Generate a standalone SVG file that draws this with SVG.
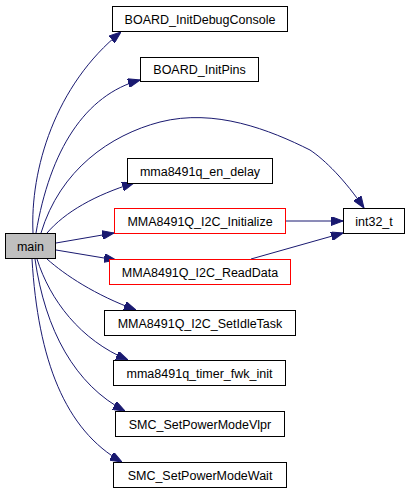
<svg xmlns="http://www.w3.org/2000/svg" width="411" height="493" viewBox="0 0 411 493">
<style>
.n rect{fill:#fff;stroke:#000;stroke-width:1}
.n.r rect{stroke:#ff0000}
.n.m rect{fill:#bfbfbf}
.n text{font-family:"Liberation Sans",Arial,sans-serif;font-size:12.5px;text-anchor:middle;fill:#000}
.e path{fill:none;stroke:#191970;stroke-width:1;marker-end:url(#ah)}
</style>
<defs>
<marker id="ah" markerUnits="userSpaceOnUse" markerWidth="12" markerHeight="9" refX="12" refY="4.5" orient="auto" viewBox="0 0 12 9">
<path d="M0,0 L12,4.5 L0,9 z" fill="#191970" stroke="#191970"/>
</marker>
</defs>
<rect width="411" height="493" fill="#fff"/>
<g id="edges" class="e">
<path d="M33,233 C30,170 55,85 121,32"/>
<path d="M36,233 C50,150 85,95 140,80"/>
<path d="M41,233 C60,170 110,135 160,122 C215,108 270,130 310,150 C325,160 345,180 364,208"/>
<path d="M47,233 C65,212 95,195 134,183"/>
<path d="M56,243 L114,233"/>
<path d="M56,250 L116,260"/>
<path d="M286,221 L343,221"/>
<path d="M251,259 L343,233"/>
<path d="M47,259 C65,275 95,295 136,310"/>
<path d="M37,259 C50,300 80,340 128,360"/>
<path d="M35,259 C45,330 75,385 125,411"/>
<path d="M32,259 C38,360 65,430 122,462"/>
</g>
<g id="main" class="n m"><rect x="5.5" y="233.5" width="50" height="25"/><text x="30.5" y="250.5">main</text></g>
<g id="BOARD_InitDebugConsole" class="n"><rect x="112.5" y="6.5" width="175" height="25"/><text x="200" y="23.5">BOARD_InitDebugConsole</text></g>
<g id="BOARD_InitPins" class="n"><rect x="140.5" y="57.5" width="118" height="24"/><text x="199.5" y="74">BOARD_InitPins</text></g>
<g id="mma8491q_en_delay" class="n"><rect x="127.5" y="158.5" width="145" height="25"/><text x="200" y="175.5">mma8491q_en_delay</text></g>
<g id="MMA8491Q_I2C_Initialize" class="n r"><rect x="114.5" y="208.5" width="171" height="25"/><text x="200" y="225.5">MMA8491Q_I2C_Initialize</text></g>
<g id="int32_t" class="n"><rect x="343.5" y="208.5" width="61" height="25"/><text x="374" y="225.5">int32_t</text></g>
<g id="MMA8491Q_I2C_ReadData" class="n r"><rect x="109.5" y="259.5" width="181" height="25"/><text x="200" y="276.5">MMA8491Q_I2C_ReadData</text></g>
<g id="MMA8491Q_I2C_SetIdleTask" class="n"><rect x="104.5" y="310.5" width="191" height="25"/><text x="200" y="327.5">MMA8491Q_I2C_SetIdleTask</text></g>
<g id="mma8491q_timer_fwk_init" class="n"><rect x="113.5" y="360.5" width="172" height="25"/><text x="199.5" y="377.5">mma8491q_timer_fwk_init</text></g>
<g id="SMC_SetPowerModeVlpr" class="n"><rect x="115.5" y="411.5" width="169" height="25"/><text x="200" y="428.5">SMC_SetPowerModeVlpr</text></g>
<g id="SMC_SetPowerModeWait" class="n"><rect x="113.5" y="462.5" width="173" height="25"/><text x="200" y="479.5">SMC_SetPowerModeWait</text></g>
</svg>
